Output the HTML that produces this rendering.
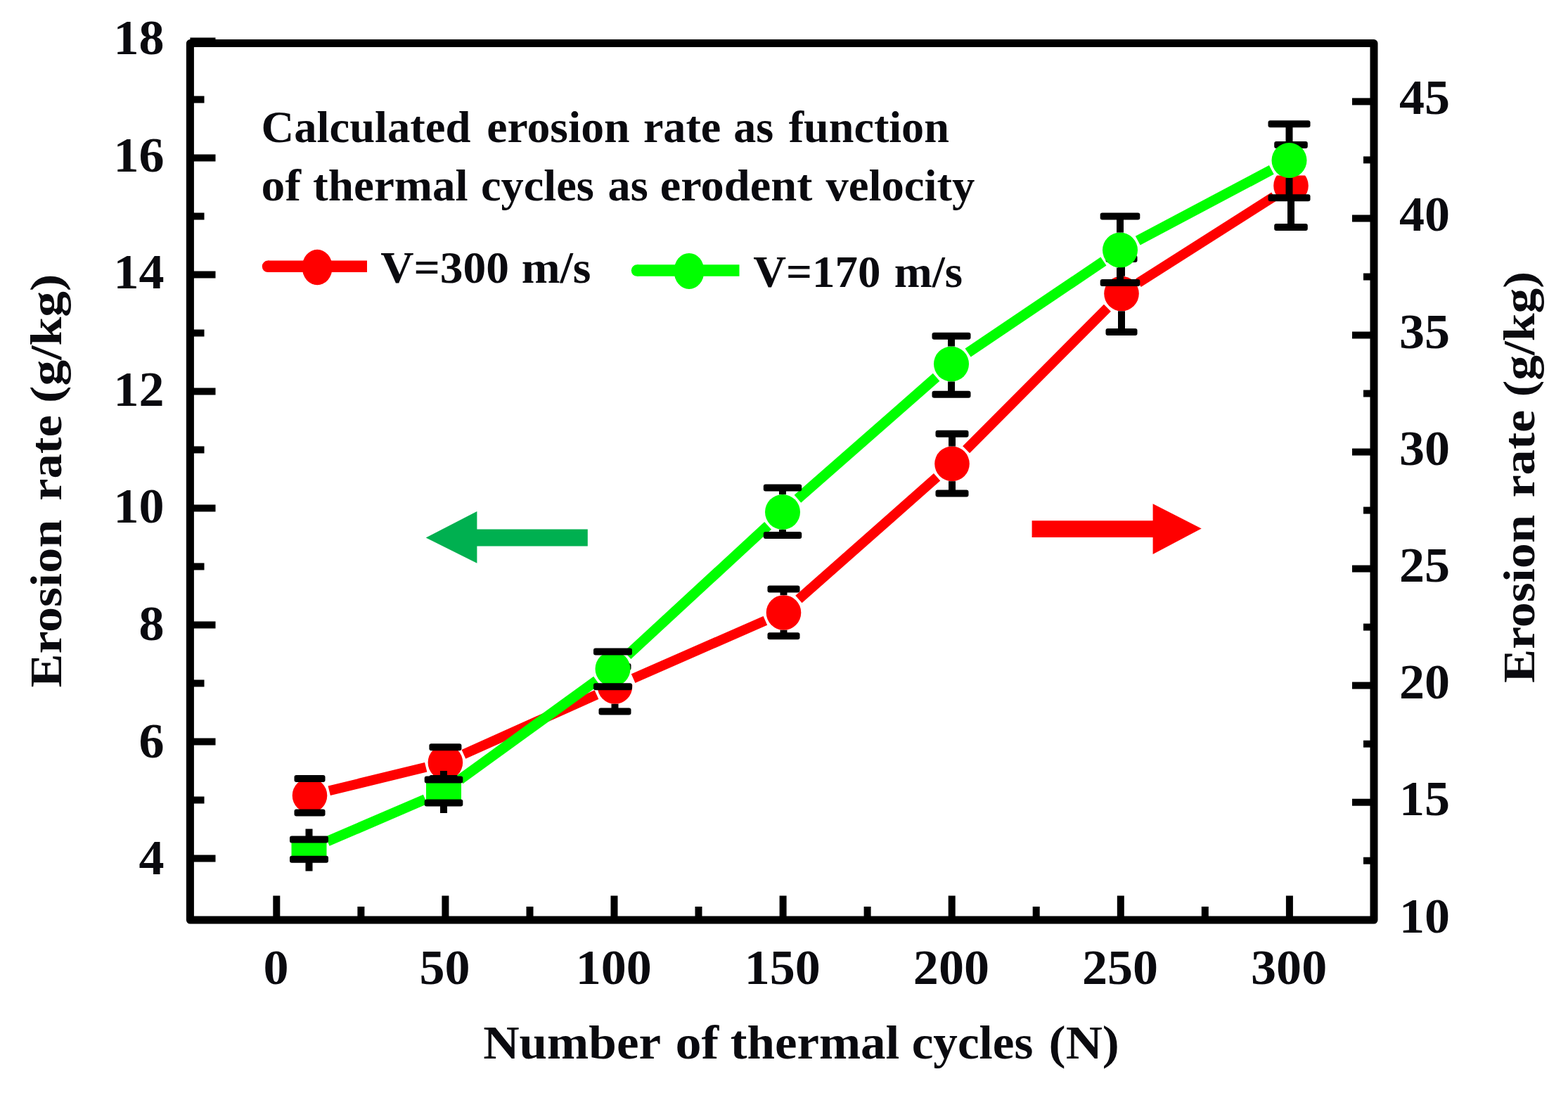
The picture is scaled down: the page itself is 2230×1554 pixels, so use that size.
<!DOCTYPE html>
<html><head><meta charset="utf-8"><title>Erosion rate vs thermal cycles</title>
<style>html,body{margin:0;padding:0;background:#fff;}svg{display:block;}</style>
</head><body>
<svg width="2230" height="1554" viewBox="0 0 2230 1554">
<rect width="2230" height="1554" fill="#fff"/>
<path d="M468.2,1124.3L605.7,1090.7M659.4,1072.3L848.5,987.7M900.6,964.6L1088.4,882.4M1135.9,852.1L1332.6,678.3M1374.1,639.2L1574.9,437.7M1619.0,402.2L1812.0,279.3" fill="none" stroke="#ff0000" stroke-width="14.0"/>
<circle cx="440.5" cy="1131.0" r="24.8" fill="#ff0000"/>
<rect x="418.5" y="1102.1" width="44.0" height="10.0" rx="3" fill="#000"/>
<rect x="418.5" y="1150.5" width="44.0" height="10.0" rx="3" fill="#000"/>
<circle cx="633.4" cy="1084.0" r="24.8" fill="#ff0000"/>
<rect x="610.4" y="1057.2" width="46.0" height="10.0" rx="3" fill="#000"/>
<rect x="610.4" y="1102.0" width="46.0" height="10.0" rx="3" fill="#000"/>
<clipPath id="cff00002"><rect x="847.7" y="973.0" width="53.6" height="29.0"/></clipPath>
<circle cx="874.5" cy="976.0" r="24.8" fill="#ff0000" clip-path="url(#cff00002)"/>
<rect x="869.5" y="1000.8" width="10.0" height="10.7" fill="#000"/>
<rect x="851.5" y="943.0" width="46.0" height="10.0" rx="3" fill="#000"/>
<rect x="851.5" y="1006.5" width="46.0" height="10.0" rx="3" fill="#000"/>
<circle cx="1114.5" cy="871.0" r="24.8" fill="#ff0000"/>
<rect x="1109.5" y="837.6" width="10.0" height="8.6" fill="#000"/>
<rect x="1109.5" y="895.8" width="10.0" height="8.5" fill="#000"/>
<rect x="1091.5" y="832.6" width="46.0" height="10.0" rx="3" fill="#000"/>
<rect x="1091.5" y="899.3" width="46.0" height="10.0" rx="3" fill="#000"/>
<circle cx="1354.0" cy="659.4" r="24.8" fill="#ff0000"/>
<rect x="1349.0" y="616.8" width="10.0" height="17.8" fill="#000"/>
<rect x="1349.0" y="684.2" width="10.0" height="17.4" fill="#000"/>
<rect x="1330.5" y="611.8" width="47.0" height="10.0" rx="3" fill="#000"/>
<rect x="1330.5" y="696.6" width="47.0" height="10.0" rx="3" fill="#000"/>
<circle cx="1595.0" cy="417.5" r="24.8" fill="#ff0000"/>
<rect x="1590.0" y="368.0" width="10.0" height="24.7" fill="#000"/>
<rect x="1590.0" y="442.3" width="10.0" height="29.7" fill="#000"/>
<rect x="1572.5" y="363.0" width="45.0" height="10.0" rx="3" fill="#000"/>
<rect x="1572.5" y="467.0" width="45.0" height="10.0" rx="3" fill="#000"/>
<clipPath id="cff00006"><rect x="1809.2" y="249.5" width="53.6" height="33.5"/></clipPath>
<circle cx="1836.0" cy="264.0" r="24.8" fill="#ff0000" clip-path="url(#cff00006)"/>
<rect x="1831.0" y="283.0" width="10.0" height="40.0" fill="#000"/>
<rect x="1812.2" y="201.0" width="47.6" height="10.0" rx="3" fill="#000"/>
<rect x="1812.2" y="318.0" width="47.6" height="10.0" rx="3" fill="#000"/>
<path d="M465.7,1196.2L604.8,1136.3M654.1,1108.3L848.4,967.7M892.4,931.7L1092.1,747.3M1134.4,709.2L1331.6,536.3M1376.6,501.6L1569.4,371.5M1618.2,342.2L1808.3,241.4" fill="none" stroke="#00ff00" stroke-width="14.5"/>
<rect x="414.5" y="1193.4" width="50.0" height="28.3" fill="#00ff00"/>
<rect x="434.5" y="1178.5" width="10.0" height="14.9" fill="#000"/>
<rect x="434.5" y="1221.7" width="10.0" height="16.8" fill="#000"/>
<rect x="412.0" y="1188.4" width="55.0" height="10.0" rx="3" fill="#000"/>
<rect x="412.0" y="1216.7" width="55.0" height="10.0" rx="3" fill="#000"/>
<rect x="606.0" y="1108.4" width="50.0" height="33.1" fill="#00ff00"/>
<rect x="626.0" y="1096.0" width="10.0" height="12.4" fill="#000"/>
<rect x="626.0" y="1141.5" width="10.0" height="14.5" fill="#000"/>
<rect x="603.7" y="1103.4" width="54.6" height="10.0" rx="3" fill="#000"/>
<rect x="603.7" y="1136.5" width="54.6" height="10.0" rx="3" fill="#000"/>
<circle cx="871.5" cy="951.0" r="25.0" fill="#00ff00"/>
<rect x="866.5" y="976.0" width="10.0" height="0.3" fill="#000"/>
<rect x="844.0" y="921.5" width="55.0" height="10.0" rx="3" fill="#000"/>
<rect x="844.0" y="971.3" width="55.0" height="10.0" rx="3" fill="#000"/>
<circle cx="1113.0" cy="728.0" r="25.0" fill="#00ff00"/>
<rect x="1108.0" y="693.4" width="10.0" height="9.6" fill="#000"/>
<rect x="1108.0" y="753.0" width="10.0" height="8.0" fill="#000"/>
<rect x="1085.8" y="688.4" width="54.4" height="10.0" rx="3" fill="#000"/>
<rect x="1085.8" y="756.0" width="54.4" height="10.0" rx="3" fill="#000"/>
<circle cx="1353.0" cy="517.5" r="25.0" fill="#00ff00"/>
<rect x="1348.0" y="477.8" width="10.0" height="14.7" fill="#000"/>
<rect x="1348.0" y="542.5" width="10.0" height="18.3" fill="#000"/>
<rect x="1325.5" y="472.8" width="55.0" height="10.0" rx="3" fill="#000"/>
<rect x="1325.5" y="555.8" width="55.0" height="10.0" rx="3" fill="#000"/>
<circle cx="1593.0" cy="355.6" r="25.0" fill="#00ff00"/>
<rect x="1588.0" y="307.4" width="10.0" height="23.2" fill="#000"/>
<rect x="1588.0" y="380.6" width="10.0" height="21.4" fill="#000"/>
<rect x="1564.7" y="302.4" width="56.6" height="10.0" rx="3" fill="#000"/>
<rect x="1564.7" y="397.0" width="56.6" height="10.0" rx="3" fill="#000"/>
<circle cx="1833.5" cy="228.0" r="25.0" fill="#00ff00"/>
<rect x="1828.5" y="176.3" width="10.0" height="26.7" fill="#000"/>
<rect x="1828.5" y="253.0" width="10.0" height="28.3" fill="#000"/>
<rect x="1803.5" y="171.3" width="60.0" height="10.0" rx="3" fill="#000"/>
<rect x="1803.5" y="276.3" width="60.0" height="10.0" rx="3" fill="#000"/>
<rect x="270.4" y="61.6" width="1683.6" height="1246.4" fill="none" stroke="#000" stroke-width="11.0" stroke-linejoin="round"/>
<line x1="270.4" y1="1220.5" x2="306.5" y2="1220.5" stroke="#000" stroke-width="10.0"/>
<line x1="270.4" y1="1054.5" x2="306.5" y2="1054.5" stroke="#000" stroke-width="10.0"/>
<line x1="270.4" y1="888.5" x2="306.5" y2="888.5" stroke="#000" stroke-width="10.0"/>
<line x1="270.4" y1="722.5" x2="306.5" y2="722.5" stroke="#000" stroke-width="10.0"/>
<line x1="270.4" y1="556.5" x2="306.5" y2="556.5" stroke="#000" stroke-width="10.0"/>
<line x1="270.4" y1="390.5" x2="306.5" y2="390.5" stroke="#000" stroke-width="10.0"/>
<line x1="270.4" y1="224.5" x2="306.5" y2="224.5" stroke="#000" stroke-width="10.0"/>
<line x1="270.4" y1="58.5" x2="306.5" y2="58.5" stroke="#000" stroke-width="10.0"/>
<line x1="270.4" y1="1137.5" x2="290.5" y2="1137.5" stroke="#000" stroke-width="10.0"/>
<line x1="270.4" y1="971.5" x2="290.5" y2="971.5" stroke="#000" stroke-width="10.0"/>
<line x1="270.4" y1="805.5" x2="290.5" y2="805.5" stroke="#000" stroke-width="10.0"/>
<line x1="270.4" y1="639.5" x2="290.5" y2="639.5" stroke="#000" stroke-width="10.0"/>
<line x1="270.4" y1="473.5" x2="290.5" y2="473.5" stroke="#000" stroke-width="10.0"/>
<line x1="270.4" y1="307.5" x2="290.5" y2="307.5" stroke="#000" stroke-width="10.0"/>
<line x1="270.4" y1="141.5" x2="290.5" y2="141.5" stroke="#000" stroke-width="10.0"/>
<line x1="1954.0" y1="1140.7" x2="1923.0" y2="1140.7" stroke="#000" stroke-width="10.0"/>
<line x1="1954.0" y1="974.6" x2="1923.0" y2="974.6" stroke="#000" stroke-width="10.0"/>
<line x1="1954.0" y1="808.6" x2="1923.0" y2="808.6" stroke="#000" stroke-width="10.0"/>
<line x1="1954.0" y1="642.6" x2="1923.0" y2="642.6" stroke="#000" stroke-width="10.0"/>
<line x1="1954.0" y1="476.5" x2="1923.0" y2="476.5" stroke="#000" stroke-width="10.0"/>
<line x1="1954.0" y1="310.5" x2="1923.0" y2="310.5" stroke="#000" stroke-width="10.0"/>
<line x1="1954.0" y1="144.4" x2="1923.0" y2="144.4" stroke="#000" stroke-width="10.0"/>
<line x1="1954.0" y1="1223.7" x2="1939.0" y2="1223.7" stroke="#000" stroke-width="10.0"/>
<line x1="1954.0" y1="1057.7" x2="1939.0" y2="1057.7" stroke="#000" stroke-width="10.0"/>
<line x1="1954.0" y1="891.6" x2="1939.0" y2="891.6" stroke="#000" stroke-width="10.0"/>
<line x1="1954.0" y1="725.6" x2="1939.0" y2="725.6" stroke="#000" stroke-width="10.0"/>
<line x1="1954.0" y1="559.5" x2="1939.0" y2="559.5" stroke="#000" stroke-width="10.0"/>
<line x1="1954.0" y1="393.5" x2="1939.0" y2="393.5" stroke="#000" stroke-width="10.0"/>
<line x1="1954.0" y1="227.4" x2="1939.0" y2="227.4" stroke="#000" stroke-width="10.0"/>
<line x1="393.3" y1="1308.0" x2="393.3" y2="1273.5" stroke="#000" stroke-width="10.0"/>
<line x1="633.4" y1="1308.0" x2="633.4" y2="1273.5" stroke="#000" stroke-width="10.0"/>
<line x1="873.5" y1="1308.0" x2="873.5" y2="1273.5" stroke="#000" stroke-width="10.0"/>
<line x1="1113.6" y1="1308.0" x2="1113.6" y2="1273.5" stroke="#000" stroke-width="10.0"/>
<line x1="1353.7" y1="1308.0" x2="1353.7" y2="1273.5" stroke="#000" stroke-width="10.0"/>
<line x1="1593.8" y1="1308.0" x2="1593.8" y2="1273.5" stroke="#000" stroke-width="10.0"/>
<line x1="1833.9" y1="1308.0" x2="1833.9" y2="1273.5" stroke="#000" stroke-width="10.0"/>
<line x1="513.4" y1="1308.0" x2="513.4" y2="1289.0" stroke="#000" stroke-width="10.0"/>
<line x1="753.5" y1="1308.0" x2="753.5" y2="1289.0" stroke="#000" stroke-width="10.0"/>
<line x1="993.5" y1="1308.0" x2="993.5" y2="1289.0" stroke="#000" stroke-width="10.0"/>
<line x1="1233.6" y1="1308.0" x2="1233.6" y2="1289.0" stroke="#000" stroke-width="10.0"/>
<line x1="1473.7" y1="1308.0" x2="1473.7" y2="1289.0" stroke="#000" stroke-width="10.0"/>
<line x1="1713.8" y1="1308.0" x2="1713.8" y2="1289.0" stroke="#000" stroke-width="10.0"/>
<text transform="translate(233.5,1243.1) scale(1.03,1)" font-family="'Liberation Serif','Times New Roman',serif" font-weight="bold" font-size="70" fill="#0a0a0f" text-anchor="end">4</text>
<text transform="translate(233.5,1076.6) scale(1.03,1)" font-family="'Liberation Serif','Times New Roman',serif" font-weight="bold" font-size="70" fill="#0a0a0f" text-anchor="end">6</text>
<text transform="translate(233.5,910.0) scale(1.03,1)" font-family="'Liberation Serif','Times New Roman',serif" font-weight="bold" font-size="70" fill="#0a0a0f" text-anchor="end">8</text>
<text transform="translate(233.5,743.4) scale(1.03,1)" font-family="'Liberation Serif','Times New Roman',serif" font-weight="bold" font-size="70" fill="#0a0a0f" text-anchor="end">10</text>
<text transform="translate(233.5,576.9) scale(1.03,1)" font-family="'Liberation Serif','Times New Roman',serif" font-weight="bold" font-size="70" fill="#0a0a0f" text-anchor="end">12</text>
<text transform="translate(233.5,410.3) scale(1.03,1)" font-family="'Liberation Serif','Times New Roman',serif" font-weight="bold" font-size="70" fill="#0a0a0f" text-anchor="end">14</text>
<text transform="translate(233.5,243.8) scale(1.03,1)" font-family="'Liberation Serif','Times New Roman',serif" font-weight="bold" font-size="70" fill="#0a0a0f" text-anchor="end">16</text>
<text transform="translate(233.5,77.2) scale(1.03,1)" font-family="'Liberation Serif','Times New Roman',serif" font-weight="bold" font-size="70" fill="#0a0a0f" text-anchor="end">18</text>
<text transform="translate(1990.0,1325.6) scale(1.03,1)" font-family="'Liberation Serif','Times New Roman',serif" font-weight="bold" font-size="70" fill="#0a0a0f" text-anchor="start">10</text>
<text transform="translate(1990.0,1159.4) scale(1.03,1)" font-family="'Liberation Serif','Times New Roman',serif" font-weight="bold" font-size="70" fill="#0a0a0f" text-anchor="start">15</text>
<text transform="translate(1990.0,993.2) scale(1.03,1)" font-family="'Liberation Serif','Times New Roman',serif" font-weight="bold" font-size="70" fill="#0a0a0f" text-anchor="start">20</text>
<text transform="translate(1990.0,827.0) scale(1.03,1)" font-family="'Liberation Serif','Times New Roman',serif" font-weight="bold" font-size="70" fill="#0a0a0f" text-anchor="start">25</text>
<text transform="translate(1990.0,660.8) scale(1.03,1)" font-family="'Liberation Serif','Times New Roman',serif" font-weight="bold" font-size="70" fill="#0a0a0f" text-anchor="start">30</text>
<text transform="translate(1990.0,494.6) scale(1.03,1)" font-family="'Liberation Serif','Times New Roman',serif" font-weight="bold" font-size="70" fill="#0a0a0f" text-anchor="start">35</text>
<text transform="translate(1990.0,328.4) scale(1.03,1)" font-family="'Liberation Serif','Times New Roman',serif" font-weight="bold" font-size="70" fill="#0a0a0f" text-anchor="start">40</text>
<text transform="translate(1990.0,162.2) scale(1.03,1)" font-family="'Liberation Serif','Times New Roman',serif" font-weight="bold" font-size="70" fill="#0a0a0f" text-anchor="start">45</text>
<text transform="translate(392.5,1399.0) scale(1.03,1)" font-family="'Liberation Serif','Times New Roman',serif" font-weight="bold" font-size="70" fill="#0a0a0f" text-anchor="middle">0</text>
<text transform="translate(632.6,1399.0) scale(1.03,1)" font-family="'Liberation Serif','Times New Roman',serif" font-weight="bold" font-size="70" fill="#0a0a0f" text-anchor="middle">50</text>
<text transform="translate(872.7,1399.0) scale(1.03,1)" font-family="'Liberation Serif','Times New Roman',serif" font-weight="bold" font-size="70" fill="#0a0a0f" text-anchor="middle">100</text>
<text transform="translate(1112.8,1399.0) scale(1.03,1)" font-family="'Liberation Serif','Times New Roman',serif" font-weight="bold" font-size="70" fill="#0a0a0f" text-anchor="middle">150</text>
<text transform="translate(1352.9,1399.0) scale(1.03,1)" font-family="'Liberation Serif','Times New Roman',serif" font-weight="bold" font-size="70" fill="#0a0a0f" text-anchor="middle">200</text>
<text transform="translate(1593.0,1399.0) scale(1.03,1)" font-family="'Liberation Serif','Times New Roman',serif" font-weight="bold" font-size="70" fill="#0a0a0f" text-anchor="middle">250</text>
<text transform="translate(1833.1,1399.0) scale(1.03,1)" font-family="'Liberation Serif','Times New Roman',serif" font-weight="bold" font-size="70" fill="#0a0a0f" text-anchor="middle">300</text>
<text x="371.5" y="202.0" font-family="'Liberation Serif','Times New Roman',serif" font-weight="bold" font-size="64" fill="#0a0a0f" textLength="298.0" lengthAdjust="spacingAndGlyphs">Calculated</text>
<text x="692.2" y="202.0" font-family="'Liberation Serif','Times New Roman',serif" font-weight="bold" font-size="64" fill="#0a0a0f" textLength="203.5" lengthAdjust="spacingAndGlyphs">erosion</text>
<text x="914.9" y="202.0" font-family="'Liberation Serif','Times New Roman',serif" font-weight="bold" font-size="64" fill="#0a0a0f" textLength="110.4" lengthAdjust="spacingAndGlyphs">rate</text>
<text x="1043.2" y="202.0" font-family="'Liberation Serif','Times New Roman',serif" font-weight="bold" font-size="64" fill="#0a0a0f" textLength="56.9" lengthAdjust="spacingAndGlyphs">as</text>
<text x="1121.7" y="202.0" font-family="'Liberation Serif','Times New Roman',serif" font-weight="bold" font-size="64" fill="#0a0a0f" textLength="228.2" lengthAdjust="spacingAndGlyphs">function</text>
<text x="371.6" y="285.0" font-family="'Liberation Serif','Times New Roman',serif" font-weight="bold" font-size="64" fill="#0a0a0f" textLength="56.3" lengthAdjust="spacingAndGlyphs">of</text>
<text x="445.1" y="285.0" font-family="'Liberation Serif','Times New Roman',serif" font-weight="bold" font-size="64" fill="#0a0a0f" textLength="220.6" lengthAdjust="spacingAndGlyphs">thermal</text>
<text x="683.9" y="285.0" font-family="'Liberation Serif','Times New Roman',serif" font-weight="bold" font-size="64" fill="#0a0a0f" textLength="160.9" lengthAdjust="spacingAndGlyphs">cycles</text>
<text x="864.6" y="285.0" font-family="'Liberation Serif','Times New Roman',serif" font-weight="bold" font-size="64" fill="#0a0a0f" textLength="57.1" lengthAdjust="spacingAndGlyphs">as</text>
<text x="938.7" y="285.0" font-family="'Liberation Serif','Times New Roman',serif" font-weight="bold" font-size="64" fill="#0a0a0f" textLength="216.6" lengthAdjust="spacingAndGlyphs">erodent</text>
<text x="1174.4" y="285.0" font-family="'Liberation Serif','Times New Roman',serif" font-weight="bold" font-size="64" fill="#0a0a0f" textLength="212.0" lengthAdjust="spacingAndGlyphs">velocity</text>
<text transform="translate(86.5,1000.0) rotate(-90)" x="22.4" y="0" font-family="'Liberation Serif','Times New Roman',serif" font-weight="bold" font-size="64" fill="#0a0a0f" textLength="238.8" lengthAdjust="spacingAndGlyphs">Erosion</text>
<text transform="translate(86.5,1000.0) rotate(-90)" x="288.0" y="0" font-family="'Liberation Serif','Times New Roman',serif" font-weight="bold" font-size="64" fill="#0a0a0f" textLength="121.8" lengthAdjust="spacingAndGlyphs">rate</text>
<text transform="translate(86.5,1000.0) rotate(-90)" x="427.1" y="0" font-family="'Liberation Serif','Times New Roman',serif" font-weight="bold" font-size="64" fill="#0a0a0f" textLength="183.2" lengthAdjust="spacingAndGlyphs">(g/kg)</text>
<text transform="translate(2182.0,1000.0) rotate(-90)" x="28.9" y="0" font-family="'Liberation Serif','Times New Roman',serif" font-weight="bold" font-size="64" fill="#0a0a0f" textLength="239.1" lengthAdjust="spacingAndGlyphs">Erosion</text>
<text transform="translate(2182.0,1000.0) rotate(-90)" x="292.4" y="0" font-family="'Liberation Serif','Times New Roman',serif" font-weight="bold" font-size="64" fill="#0a0a0f" textLength="124.9" lengthAdjust="spacingAndGlyphs">rate</text>
<text transform="translate(2182.0,1000.0) rotate(-90)" x="435.5" y="0" font-family="'Liberation Serif','Times New Roman',serif" font-weight="bold" font-size="64" fill="#0a0a0f" textLength="178.6" lengthAdjust="spacingAndGlyphs">(g/kg)</text>
<text x="687.2" y="1505.0" font-family="'Liberation Serif','Times New Roman',serif" font-weight="bold" font-size="67" fill="#0a0a0f" textLength="252.9" lengthAdjust="spacingAndGlyphs">Number</text>
<text x="960.4" y="1505.0" font-family="'Liberation Serif','Times New Roman',serif" font-weight="bold" font-size="67" fill="#0a0a0f" textLength="61.7" lengthAdjust="spacingAndGlyphs">of</text>
<text x="1038.8" y="1505.0" font-family="'Liberation Serif','Times New Roman',serif" font-weight="bold" font-size="67" fill="#0a0a0f" textLength="240.4" lengthAdjust="spacingAndGlyphs">thermal</text>
<text x="1296.7" y="1505.0" font-family="'Liberation Serif','Times New Roman',serif" font-weight="bold" font-size="67" fill="#0a0a0f" textLength="172.7" lengthAdjust="spacingAndGlyphs">cycles</text>
<text x="1491.6" y="1505.0" font-family="'Liberation Serif','Times New Roman',serif" font-weight="bold" font-size="67" fill="#0a0a0f" textLength="100.3" lengthAdjust="spacingAndGlyphs">(N)</text>
<line x1="381" y1="378.8" x2="522" y2="378.8" stroke="#ff0000" stroke-width="16.5"/><circle cx="381" cy="378.8" r="8.25" fill="#ff0000"/>
<ellipse cx="451.2" cy="380" rx="21.5" ry="25.3" fill="#ff0000"/>
<text x="541.2" y="402.4" font-family="'Liberation Serif','Times New Roman',serif" font-weight="bold" font-size="64" fill="#0a0a0f" textLength="182.9" lengthAdjust="spacingAndGlyphs">V=300</text>
<text x="741.7" y="402.4" font-family="'Liberation Serif','Times New Roman',serif" font-weight="bold" font-size="64" fill="#0a0a0f" textLength="98.8" lengthAdjust="spacingAndGlyphs">m/s</text>
<line x1="906" y1="384.6" x2="1051.5" y2="384.6" stroke="#00ff00" stroke-width="16.5"/><circle cx="906" cy="384.6" r="8.25" fill="#00ff00"/>
<ellipse cx="980" cy="385.4" rx="21.5" ry="25.5" fill="#00ff00"/>
<text x="1071.2" y="408.1" font-family="'Liberation Serif','Times New Roman',serif" font-weight="bold" font-size="64" fill="#0a0a0f" textLength="181.3" lengthAdjust="spacingAndGlyphs">V=170</text>
<text x="1271.8" y="408.1" font-family="'Liberation Serif','Times New Roman',serif" font-weight="bold" font-size="64" fill="#0a0a0f" textLength="97.3" lengthAdjust="spacingAndGlyphs">m/s</text>
<polygon points="605.7,764.5 678.4,727 678.4,752.4 835.8,752.4 835.8,776.6 678.4,776.6 678.4,800.8" fill="#00b050"/>
<polygon points="1708.7,751.5 1639.6,716.3 1639.6,740.2 1467.6,740.2 1467.6,764 1639.6,764 1639.6,787.9" fill="#ff0000"/>
</svg>
</body></html>
